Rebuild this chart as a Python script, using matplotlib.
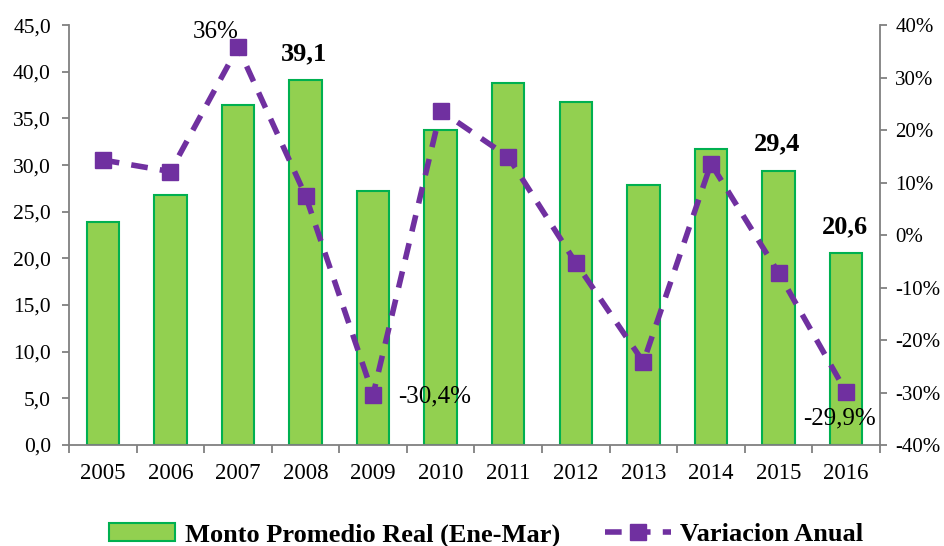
import matplotlib.pyplot as plt
from matplotlib.ticker import FuncFormatter, FixedLocator, NullFormatter
import numpy as np

years = ["2005", "2006", "2007", "2008", "2009", "2010",
         "2011", "2012", "2013", "2014", "2015", "2016"]
monto = [23.9, 26.8, 36.4, 39.1, 27.2, 33.8, 38.8, 36.8, 27.9, 31.7, 29.4, 20.6]
variacion = [14.3, 12.1, 35.8, 7.5, -30.4, 23.7, 14.9, -5.3, -24.2, 13.6, -7.2, -29.9]

plt.rcParams['font.family'] = ['Liberation Serif', 'DejaVu Serif']

fig = plt.figure(figsize=(9.44, 5.46), dpi=100)
ax = fig.add_axes([0.0731, 0.185, 0.859, 0.769])
x = np.arange(len(years))

ax.bar(x, monto, width=0.48, color='#92D050', edgecolor='#00B050', linewidth=1.5,
       label='Monto Promedio Real (Ene-Mar)', zorder=2)
ax.set_ylim(0, 45)
ax.set_xlim(-0.5, len(years) - 0.5)
ax.set_yticks(np.arange(0, 46, 5))
ax.yaxis.set_major_formatter(FuncFormatter(lambda v, p: f"{v:.1f}".replace('.', ',')))
ax.set_xticks(x)
ax.set_xticklabels(years)
ax.xaxis.set_minor_locator(FixedLocator(np.arange(-0.5, len(years), 1)))
ax.xaxis.set_minor_formatter(NullFormatter())
ax.tick_params(axis='x', which='major', length=0, labelsize=16.5, pad=13)
ax.tick_params(axis='x', which='minor', length=6, color='#808080', width=1.3)
ax.tick_params(axis='y', length=5, color='#808080', width=1.3, labelsize=15.5, pad=8)

for side in ['top', 'right']:
    ax.spines[side].set_visible(False)
for side in ['left', 'bottom']:
    ax.spines[side].set_color('#808080')
    ax.spines[side].set_linewidth(1.3)

ax2 = ax.twinx()
ax2.plot(x, variacion, color='#7030A0', linestyle=(0, (3, 2.2)), linewidth=4,
         marker='s', markersize=12, label='Variacion Anual', zorder=3)
ax2.set_ylim(-40, 40)
ax2.set_yticks(np.arange(-40, 41, 10))
ax2.yaxis.set_major_formatter(FuncFormatter(lambda v, p: f"{v:.0f}%"))
ax2.tick_params(axis='y', length=5, color='#808080', width=1.3, labelsize=15, pad=6)
for side in ['top', 'left', 'bottom']:
    ax2.spines[side].set_visible(False)
ax2.spines['right'].set_color('#808080')
ax2.spines['right'].set_linewidth(1.3)

# bar value labels (bold)
for i in [3, 10, 11]:
    ax.annotate(f"{monto[i]:.1f}".replace('.', ','), (x[i], monto[i]),
                xytext=(-1, 19), textcoords='offset points', ha='center', va='center',
                fontsize=19, fontweight='bold')

# line value labels
ax2.annotate("36%", (x[2], variacion[2]), xytext=(-16, 11), textcoords='offset points',
             ha='center', va='center', fontsize=18)
ax2.annotate(f"{variacion[4]:.1f}%".replace('.', ','), (x[4], variacion[4]),
             xytext=(44, -1), textcoords='offset points', ha='center', va='center', fontsize=18)
ax2.annotate(f"{variacion[11]:.1f}%".replace('.', ','), (x[11], variacion[11]),
             xytext=(-4.5, -19), textcoords='offset points', ha='center', va='center', fontsize=18)

h1, l1 = ax.get_legend_handles_labels()
h2, l2 = ax2.get_legend_handles_labels()
fig.legend(h1 + h2, l1 + l2, loc='lower center', bbox_to_anchor=(0.515, -0.045), ncol=2,
           frameon=False, prop={'size': 19, 'weight': 'bold'}, handlelength=2.5,
           handletextpad=0.35, columnspacing=1.7)

fig.savefig('out.png', dpi=100)
